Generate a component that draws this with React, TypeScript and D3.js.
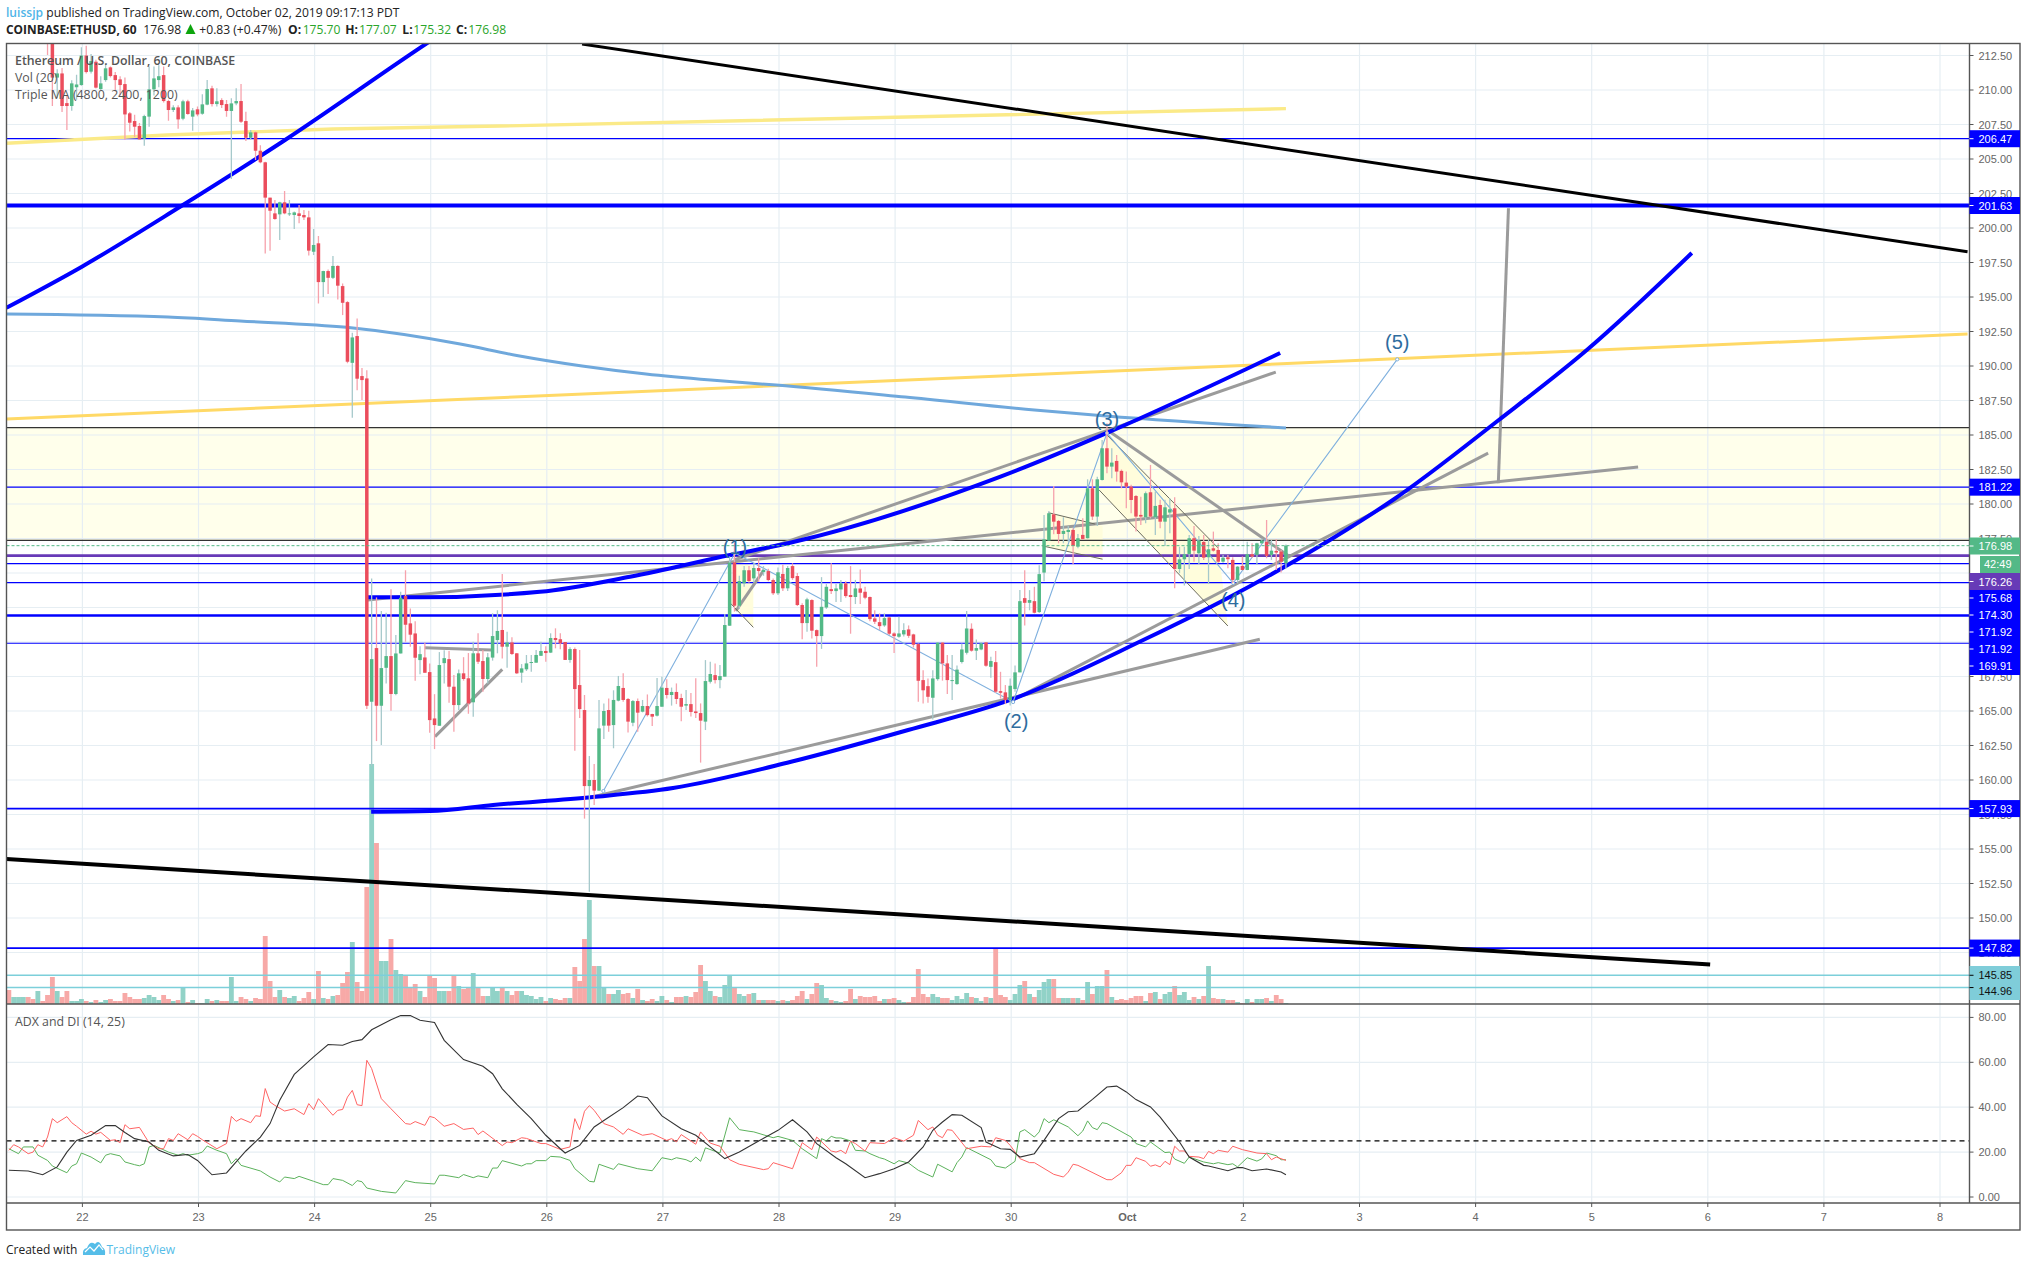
import React from "react";
import * as d3 from "d3";

// Hourly bars, first bar index is firstBar (hours relative to the "22" day tick)
const firstBar = -15;
const opens = [
216.5,215.9,216.3,216.6,216.9,216.2,215.8,216.1,215.2,214.0,
210.9,211.2,209.05,208.84,210.2,210.36,212.5,211.33,212.05,210.07,
210.72,211.64,211.08,210.77,210.43,208.31,207.75,207.39,206.47,208.07,
210.05,210.72,211.08,209.2,208.55,208.74,207.92,209.18,208.07,208.6,
208.28,208.94,210.12,208.98,209.27,208.98,208.48,209.03,209.2,207.75,
206.54,206.93,205.6,204.76,202.2,201.06,200.99,201.86,201.01,200.94,
201.06,200.94,200.77,198.28,198.89,196.08,196.88,196.39,197.25,195.79,
194.63,190.23,192.17,189.27,189.1,165.67,169.56,165.38,168.13,168.98,
166.23,169.17,173.33,171.35,170.62,168.69,168.88,167.82,164.46,163.93,
168.47,168.76,166.76,165.43,167.73,167.37,165.63,169.18,168.62,167.32,
168.87,170.14,170.87,169.66,169.97,169.18,167.78,168.02,168.48,168.5,
169,169.35,169.23,170.29,170.2,170,168.7,169.49,166.88,165.07,
159.56,160,159.23,163.94,165.07,163.98,165.75,166.67,165.87,164.15,
165.72,164.95,165.36,164.78,164.66,165.31,166.67,166.16,166.38,165.94,
165.39,165.5,164.97,164.85,164.23,167.12,167.6,167.24,167.49,171.18,
175.77,172.63,174.25,175.2,174.61,175.36,175.07,175.14,174.49,173.53,
174.93,173.89,175.5,174.78,172.68,171.37,173.04,170.86,170.43,172.5,
173.83,173.69,173.81,174.25,173.4,173.26,173.88,173.64,173.26,171.71,
171.44,171.2,171.78,170.62,170.38,170.55,170.91,170.55,169.85,167.24,
166.8,165.96,167.31,169.95,168.45,167.2,166.95,168.55,169.22,170.96,
169.37,169.46,169.97,168.2,168.54,166.44,166.35,165.79,166.59,167.8,
173.18,172.84,172.96,172.17,175.03,177.35,179.25,178.77,177.83,177.97,
178.12,176.91,177.76,177.52,181.14,179.09,181.74,184.04,182.71,183.12,
182.4,181.55,181.26,180.58,179.21,179.04,180.85,179.04,179.93,178.72,
179.38,179.69,175.29,175.99,176.38,177.52,176.43,177.25,176.14,176.79,
176.67,175.82,176.14,175.95,174.5,175.51,175.22,176.36,176.31,177.15,
177.25,176.31,176.6,176.55,175.7];
const closes = [
215.9,216.3,216.6,216.9,216.2,215.8,216.1,215.2,214.5,210.9,
211.2,208.84,208.84,210.48,210.4,212.5,211.3,212.1,210.17,210.48,
211.57,211.01,210.72,210.36,208.23,207.63,207.34,206.42,208.11,210.05,
210.84,211,209.2,208.55,208.74,207.87,209.18,208.26,208.52,208.23,
208.96,210.07,208.98,209.18,208.91,208.48,209.03,209.2,207.7,206.54,
206.93,205.6,204.76,202.2,201.25,200.65,201.86,201.06,201.06,201.13,
200.87,200.77,198.36,198.77,196.08,196.88,196.39,197.25,195.82,194.58,
190.31,192.07,189.08,188.98,165.38,168.76,165.38,168.11,168.98,166.23,
169.17,173.2,171.25,170.53,168.86,169.12,167.77,164.34,163.98,168.33,
168.83,166.76,165.43,167.73,167.32,165.55,169.18,168.57,167.32,168.89,
170.43,170.8,169.66,169.97,169.13,167.73,168.09,168.45,168.55,169.06,
169.35,169.2,170.29,170.14,169.9,168.7,169.49,166.59,165.14,159.56,
160,159.23,163.74,165,163.94,165.8,166.81,165.8,164.23,165.72,
164.88,165.36,164.7,164.59,165.36,166.69,166.16,166.38,165.87,165.31,
165.5,164.93,164.85,164.3,167.17,167.68,167.24,167.53,171.23,175.75,
172.63,174.42,175.2,174.42,175.36,175.14,175.22,174.49,173.53,175.05,
173.89,175.36,174.63,172.68,171.37,173.09,170.82,170.43,172.55,174,
173.69,173.88,174.25,173.33,173.26,173.88,173.57,173.21,171.66,171.47,
171.15,171.73,170.6,170.43,170.62,170.86,170.45,169.8,167.19,166.5,
166.03,167.36,169.95,168.45,167.24,167.24,168,169.46,170.98,169.37,
169.56,169.9,168.28,168.62,166.4,166.32,165.79,166.83,167.8,172.96,
172.84,173.04,172.12,174.92,177.44,179.33,178.72,177.83,178.05,178.12,
176.96,177.52,177.47,181.14,179.09,181.79,184.04,182.71,183,182.35,
181.57,181.26,180.29,179.09,179.09,180.78,179.09,179.86,178.72,179.76,
179.62,175.29,175.99,176.36,177.52,176.62,177.35,176.11,176.72,176.62,
175.82,176.11,176,174.5,175.46,175.22,176.36,176.19,177.15,177.35,
176.24,176.62,176.48,175.82,176.98];
const highs = [
217,216.5,216.8,217,217,216.4,216.2,216.2,215.4,214.5,
211.5,211.6,209.6,210.7,211.1,213.1,213.2,212.6,212.2,211,
211.9,211.7,211.3,211,210.9,208.4,208.2,207.6,208.2,211.7,
211.7,211.8,211.7,209.3,208.9,208.9,209.3,209.3,208.7,208.8,
209.7,210.72,210.3,210.12,209.4,209.27,209.4,210.12,210.43,208.43,
207.1,207,206,204.8,202.2,202.03,201.9,202.68,202.03,201.2,
201.66,201.3,201.25,199.93,199.42,196.9,197,197.97,197.3,195.98,
194.7,192.41,193.45,189.85,189.7,174.6,173.23,172.24,172.12,173.83,
170.5,173.64,175.2,172.43,171.5,169.7,169.95,168.45,166.22,169.27,
169.41,169.34,167.6,168,168.9,169.2,170.02,170.63,169.42,169.2,
172.08,172.3,174.93,170.75,170.34,169.2,168.4,169.06,169.06,169.42,
170.02,169.7,170.63,170.99,170.63,170,169.62,169.6,169.42,166.16,
161.74,161.16,165.8,165.55,165.9,166.5,167.54,167.73,165.95,165.8,
165.9,165.8,166.2,164.8,167.4,167.48,167.3,166.7,167,166.25,
166.52,166.3,167.37,165.55,168.69,168.57,168.45,168.33,172.03,176.2,
177.2,174.8,175.5,175.5,175.7,176.06,175.5,175.3,174.6,175.4,
175.6,175.5,175.7,175,172.8,173.2,173.1,170.9,174.7,174.2,
175.7,174.2,174.5,174.4,175.5,174.5,175.26,174,173.3,172.3,
172.07,172.07,171.8,170.7,171.83,171.35,171.2,170.6,169.9,167.96,
167.36,167.96,170,170,169.05,169.05,168.3,169.9,172.24,171.35,
170.19,170,170,168.93,169.34,167.84,166.88,167.36,168.3,173.76,
175.2,173.76,174,175.57,179.2,179.5,181.3,178.84,179.04,178.4,
178.24,177.83,178.96,181.79,181.79,181.98,184.64,185.85,184.04,183.55,
182.5,182.35,181.4,180.65,180.53,180.9,182.83,180.9,180.3,180.3,
180.41,180.49,176.9,176.9,177.76,178.41,177.68,177.76,177.39,178,
177.15,176.3,176.31,176.14,175.5,176.2,177.27,177.15,177.2,177.5,
178.84,177.39,177.44,176.67,177.07];
const lows = [
215.5,215.7,216,216.4,216,215.6,215.6,215,212.53,208.84,
209.4,208.4,207.1,208.5,209.3,210.3,211.2,211.2,210.1,210,
210.6,210.9,209.9,209.6,206.4,207,206.6,206.4,205.96,207.34,
209.6,210.2,209.1,207.78,208.4,207.2,207.8,208.2,207.05,208.1,
208.2,208.9,208.8,208.8,208.7,208.06,203.55,208.9,207.6,206.3,
206.4,204.93,204.7,198.16,198.36,200.6,199.13,201,200.87,199.93,
200.34,200.58,198,198.04,194.53,195,195.21,196.3,194.82,193.69,
190.2,186.25,188.25,187.53,165.14,161,162.82,162.53,167,165.02,
166.15,169.17,170.02,169.66,167.2,167.67,167.77,163.42,162.24,163.93,
167,165.6,163.5,165.07,167.2,164.8,164.59,168.4,166.4,167,
168.65,169.18,168.8,168.14,169.06,167.68,167.05,167.9,167.85,168.5,
169,168.57,169.2,169.54,169.47,168.7,168.5,162.12,164.5,157.2,
151.9,158.19,159.2,162.97,163.5,162.3,165.7,165.67,163.45,163.9,
163.5,164.9,164.6,163.91,164.6,165.3,165.9,165.39,165.5,164.25,
165.07,164.6,164.5,161.26,163.62,167,167,166.64,167.49,171.18,
172.2,172.4,174,174.3,174.3,174.37,174.8,174.4,173.4,173.4,
173.7,173.7,174.5,172.6,170.2,170.74,170.26,168.2,169.5,172.4,
173.47,172.9,172.9,173.2,170.6,172.75,172.75,173.1,171.5,171.3,
170.86,171.1,170.5,169.2,170.3,170.4,170.3,169.6,165.67,165.55,
165.6,164.39,167.2,167.2,166.23,165.79,166.9,168.45,169.1,169.3,
168.69,169.4,168.2,167.41,166.3,165.9,165.5,165.4,166.4,167.8,
171.2,172.3,172.07,172.1,174.4,177.35,177.8,177.15,177.15,177.27,
175.66,176.79,177.4,177.5,178.84,178.41,181.7,182.23,181.86,181.62,
181.14,179.69,179.33,178,178.48,178.6,178.95,177.76,178.24,176.96,
177.88,173.89,174.98,174.09,175.29,175.82,175.66,175.95,174.2,176.55,
175.75,175.75,175.34,174.25,174.25,175.2,175.2,176.1,175.58,177.1,
176.07,175.95,175.22,175.03,175.32];
const volumes = [
14,7,7,7,7,5,13,3,9,27,
13,7,13,3,3,5,3,2,4,2,
4,5,3,3,11,7,5,5,6,9,
7,4,9,5,3,4,17,2,4,1,
1,5,3,4,3,3,27,3,7,5,
3,6,5,68,23,7,14,7,6,8,
3,6,12,5,33,6,5,8,9,21,
32,62,22,13,117,240,161,43,43,65,
34,30,29,16,20,13,7,28,26,13,
13,13,29,18,15,17,31,17,8,8,
17,13,17,13,9,13,13,9,8,5,
7,3,6,5,4,6,6,37,23,65,
104,38,38,17,10,10,14,10,11,6,
15,4,3,5,3,8,4,2,7,7,
8,7,12,39,23,13,8,7,19,29,
17,10,8,10,11,4,4,4,4,3,
4,3,4,8,13,5,10,21,19,6,
4,3,2,3,15,5,8,7,7,8,
3,5,5,6,4,2,2,7,35,10,
7,10,7,6,6,4,8,5,11,7,
6,3,7,6,56,9,7,4,10,19,
23,10,7,14,22,25,25,6,6,6,
6,6,4,22,10,18,18,34,7,4,
5,4,6,8,8,3,11,12,5,10,
12,18,9,12,4,7,5,8,38,6,
5,5,4,4,2,1,5,2,5,5,
6,3,9,5,1];

// ADX and DI: [bar, value]
const adxLine: [number, number][] = [[-15,11.9],[-11,11.6],[-8,9.9],[-5,13.4],[-3,20],[-1,25.2],[2,27.5],[5,31.8],[7,31.8],[9,28.7],[11,26],[14,24.5],[16,20.8],[19,18.3],[22,18.9],[24,16.3],[27,9.9],[30,10.7],[32,15.6],[34,20.5],[37,26.7],[39,32.7],[41,43.1],[44,54.6],[48,62.4],[51,67.9],[54,67.6],[56,69.3],[58,70.1],[60,74.5],[64,79],[66,80.8],[68,80.8],[70,78.7],[73,77.7],[75,69.8],[79,61.2],[83,58.2],[85,54.9],[87,48.2],[90,41.3],[93,34.9],[96,27.5],[99,21.5],[100,19.6],[103,23],[106,31.2],[108,34.1],[112,39.8],[115,45],[117,44.2],[120,36.1],[124,30.4],[127,27.5],[130,22.3],[133,17.1],[136,20],[140,24.9],[144,29.7],[147,34.4],[150,29],[152,23.8],[156,17.5],[158,14.8],[162,8.6],[165,10.4],[168,12.6],[171,15.6],[174,22.3],[176,29.7],[178,33.4],[180,36.7],[182,36.4],[186,30.9],[187,24.5],[190,21.5],[192,21.2],[194,17.8],[197,19.3],[199,25.2],[202,34.9],[204,38],[206,38.3],[209,43.5],[212,49],[214,49.4],[216,46.8],[218,43.4],[221,40.1],[223,35.6],[227,24.5],[229,17.8],[232,14.1],[233,13.8],[237,11.7],[239,13.1],[240,13.1],[242,11.7],[245,12.5],[248,11.1],[249,9.9]];
const diPlus: [number, number][] = [[-15,21.5],[-13,19.3],[-12,22.3],[-10,22.3],[-9,18.6],[-7,16.3],[-6,13.8],[-3,10.8],[-2,13.8],[-1,14.8],[0,19.6],[2,17.8],[4,15.2],[5,18.6],[6,19.3],[8,18.3],[9,15.6],[11,14.4],[12,13.9],[13,14.8],[14,22.3],[15,23],[18,20],[20,18.6],[21,19.3],[22,18.6],[24,19.3],[25,20],[26,22.7],[28,20.8],[30,19.3],[31,14.8],[32,17.1],[33,14.1],[37,11.6],[39,8.9],[41,6.7],[42,8.9],[44,8.2],[45,9.2],[48,7],[50,5.5],[51,5.5],[52,8.2],[54,7.4],[56,5.1],[57,7.3],[58,6.8],[59,4],[62,2.5],[65,1.8],[67,7.3],[69,6.4],[73,5.8],[74,9.7],[75,9.7],[78,8.6],[79,10],[81,8.6],[82,9.4],[84,8.6],[85,12.9],[86,12.9],[87,16.2],[91,13.8],[92,14.8],[93,14.8],[94,16.2],[96,16.2],[97,18.1],[99,17.8],[101,16.3],[102,12.6],[104,8.9],[105,7],[106,6.7],[107,14.6],[110,12.3],[111,14.8],[115,12.6],[118,11.7],[120,17.5],[122,16.6],[123,17.5],[125,16.6],[126,15.6],[127,17.8],[128,15.9],[129,21.9],[132,19.6],[134,35.3],[136,30],[138,29.3],[139,29],[143,26.4],[144,27],[147,25.2],[149,21.5],[152,17.1],[153,26],[154,25],[155,27],[156,26.3],[157,26.3],[159,25],[160,20.8],[162,20.5],[163,19.3],[165,17.5],[166,16.9],[168,14.8],[169,16.2],[171,15.1],[173,11.9],[176,8.9],[177,14.6],[180,11.2],[181,15.3],[182,17.8],[183,22],[188,16.6],[189,13.8],[191,12.9],[193,15.9],[194,29],[195,30],[197,26.7],[198,29],[199,34.9],[200,33.1],[201,34.4],[204,31.2],[206,27.3],[207,29.4],[208,33.9],[209,30.9],[210,30],[211,33.1],[212,32.7],[217,26.7],[218,23.8],[220,22.3],[221,24.5],[224,19.8],[225,20],[226,16.9],[228,15],[229,17.8],[232,15.6],[234,14.8],[235,15.3],[237,14.4],[238,14.8],[239,13.4],[241,17.5],[243,16],[244,17],[245,19.6],[247,18.4],[248,16.6],[249,16.6]];
const diMinus: [number, number][] = [[-15,20.8],[-14,23.3],[-13,22.3],[-11,19.3],[-10,20],[-9,23.3],[-8,22.3],[-7,26.7],[-6,34.9],[-5,33.1],[-3,35.8],[-2,33.1],[-1,31.5],[1,28],[2,29.3],[3,28],[4,28.8],[6,25.2],[7,25.5],[8,24.2],[9,32.2],[10,30.4],[12,31],[14,24.1],[16,21.5],[17,21.5],[18,26],[19,25.2],[20,28.2],[22,25.5],[23,28.2],[24,27],[25,25.5],[28,21.5],[30,23.8],[31,35.9],[32,33.7],[33,34.9],[35,33.1],[36,36.2],[37,35.9],[38,48.3],[39,42.3],[40,40.8],[42,38.3],[44,39.3],[46,36.7],[47,41.6],[48,38.9],[49,43.8],[52,36.4],[53,38.6],[54,39],[55,44.5],[56,47.5],[57,41.1],[58,40.7],[59,60.9],[60,57.2],[62,43.8],[64,39.3],[67,32.7],[68,32.4],[69,33.6],[71,31.9],[72,35.9],[73,35.3],[75,31.5],[77,32.7],[79,30.1],[81,30.7],[82,27.8],[83,29.4],[87,22.9],[88,24.5],[89,24.2],[91,26.4],[92,26.1],[95,23.8],[96,23.8],[99,21.2],[101,22.3],[102,34.9],[103,30],[104,38.2],[105,40.7],[106,38.6],[108,32.7],[110,31.2],[112,27.9],[113,30.4],[116,27.5],[118,28.2],[121,25.2],[122,26],[123,24.6],[124,27.8],[127,23.5],[128,29],[130,24],[132,22.6],[134,16.6],[136,14.6],[141,12.2],[142,12.6],[143,15.3],[147,12.6],[149,24.2],[151,21.1],[152,26.7],[155,20.5],[156,20],[157,20.8],[158,19.3],[159,24.9],[160,23.8],[162,20.5],[163,24.2],[166,23.8],[168,26.4],[170,24.9],[172,27.5],[173,34.1],[175,30],[176,31.2],[177,27.5],[178,26.4],[179,30],[180,29.7],[183,21.5],[186,22.6],[188,22.3],[189,26.4],[191,25.2],[192,23],[194,17.1],[196,15.3],[197,15.3],[201,10.1],[203,8.9],[204,11.1],[205,14.6],[206,14.1],[212,7.7],[213,7.7],[215,10.8],[216,14.1],[217,14.1],[218,17.5],[220,15.9],[221,13.7],[222,14.3],[223,13.4],[224,15.9],[225,14.4],[226,22.6],[227,20.5],[228,20.5],[229,18.1],[231,17.8],[232,17.1],[233,20.3],[234,19.3],[235,20.8],[237,20],[238,22.6],[240,21.1],[243,19.6],[245,19.3],[246,16.6],[247,17.8],[249,16.3]];

// Moving averages and drawings: [bar, price]
const maYellow: [number, number][] = [[-15.5,206.14],[17.7,206.74],[52,207.17],[86.5,207.39],[249,208.65]];
const maOrange: [number, number][] = [[-15.5,186.16],[389.9,192.32]];
const maBlue: [number, number][] = [[-15.5,193.77],[17.9,193.55],[32.8,193.26],[54.8,192.8],[78.3,191.59],[90,190.76],[103.5,190],[116.7,189.42],[130.1,188.98],[143.6,188.62],[170.3,187.75],[197,186.81],[211.8,186.38],[249,185.51]];
const curveTop: [number, number][] = [[-15.5,194.22],[0.1,197.2],[20.4,201.54],[42.1,206.38],[71.4,213.38],[80.3,215.43]];
const curveLow: [number, number][] = [[59.9,157.7],[72.1,157.75],[85.1,158.19],[105.8,158.77],[122.3,159.42],[146.5,161.3],[170.9,163.62],[192,165.8],[219.5,170.14],[237.4,173.26],[258.1,177.39],[271.1,180.29],[293,186.09],[311.2,191.16],[332.9,198.19]];
const curveUp: [number, number][] = [[59.2,173.24],[70,173.24],[94.8,173.64],[113.4,174.73],[134.1,176.3],[146.5,177.19],[190,181.98],[212.6,185.24],[247.8,190.94]];
const blackLines: [number, number][][] = [[[103.5,213.33],[389.9,198.28]],[[-15.5,154.27],[336.7,146.63]]];
const grayLines: [number, number][][] = [
  [[59.2,173.04],[321.8,182.68]],
  [[104.7,158.69],[243.6,170.2]],
  [[192.6,165.8],[290.8,183.69]],
  [[134.9,175.94],[246.9,189.56]],
  [[71,169.59],[84.8,169.42]],
  [[73.1,163.14],[87,168.02]],
  [[135.3,172.25],[141.1,175.22]],
  [[295,201.43],[292.9,181.5]],
  [[212.6,185.24],[249.8,176.18]],
];
const thinLines: [number, number][][] = [
  [[134.2,172.8],[138.9,171.06]],
  [[199.9,179.37],[209.5,178.55]],
  [[198.7,176.96],[211.1,176]],
  [[212,185],[235,176.81]],
  [[210.4,181.01],[237,171.16]],
];
const channelFills: [number, number][][] = [
  [[135.1,175.94],[138.9,175.51],[138.9,171.09],[134.3,172.82]],
  [[199.9,179.37],[211.1,178.4],[211.1,176],[198.7,176.96]],
  [[212,185],[235,176.81],[237,171.16],[210.4,181.01]],
];
const wavePoints: [number, number][] = [[107.9,159.2],[135.1,176.45],[192.6,165.65],[212,185.14],[238.1,174.27],[272,190.48]];
const waveLabels = ["", "(1)", "(2)", "(3)", "(4)", "(5)"];
const waveLabelPrices = [0, 176.4, 163.75, 185.65, 172.55, 191.25];

const hLinesThin = [206.47, 181.22, 175.68, 174.3, 169.91];
const hLinesMid = [157.93, 147.82];
const hLinesThick = [201.63];
const hLineZone = 171.92;
const zone = [177.37, 185.53];
const lastPrice = 176.98;
const maPrice = 176.26;
const tealLevels = [145.85, 144.96];
const priceTicks = d3.range(147.5, 213, 2.5);
const hiddenTicks = [145, 170, 172.5, 175];
const adxTicks = [80, 60, 40, 20, 0];
const dayLabels = ["22","23","24","25","26","27","28","29","30","Oct","2","3","4","5","6","7","8"];
const blueLabels = [206.47, 201.63, 181.22, 157.93, 147.82];
const stackedLabels = ["175.68", "174.30", "171.92", "171.92", "169.91"];

const C = {
  grid: "#E6EEF3", frame: "#555555", up: "#53B987", down: "#EB4D5C", upWick: "#A6C9CB", downWick: "#F6A2AC",
  volUp: "#91D2C7", volDown: "#F7A9A7", blue: "#0000FF", gray: "#9B9B9B", text: "#666666",
};
const W = 2027, H = 1267;
const L = 6.5, R = 1969.5, T = 43.5, B1 = 1004, B2 = 1203, B3 = 1230, RR = 2020;
const sans = "'Liberation Sans', Arial, sans-serif";
const head = "'Open Sans', sans-serif";

const x = d3.scaleLinear().domain([0, 1]).range([81.4, 86.2375]);
const y = d3.scaleLinear().domain([180, 150]).range([504, 918]);
const yAdx = d3.scaleLinear().domain([0, 80]).range([1197, 1017.4]);
const yVol = d3.scaleLinear().domain([0, 240]).range([B1, 764]);

const line = d3.line<[number, number]>().x((d) => x(d[0])).y((d) => y(d[1]));
const smooth = d3.line<[number, number]>().x((d) => x(d[0])).y((d) => y(d[1])).curve(d3.curveMonotoneX);
const adxPath = d3.line<[number, number]>().x((d) => x(d[0])).y((d) => yAdx(d[1]));

function Label({ top, h = 17, fill, color = "#fff", text }: any) {
  return (
    <g>
      <rect x={R} y={top} width={RR - R} height={h} fill={fill} />
      <line x1={R} x2={R + 4} y1={top + h / 2} y2={top + h / 2} stroke={color} strokeWidth={1} />
      <text x={1978.5} y={top + h / 2 + 4} fontFamily={sans} fontSize={11} fill={color}>{text}</text>
    </g>
  );
}

export default function App() {
  const n = opens.length;
  const idx = d3.range(n);
  const hw = 1.75;
  const stack = 589;
  return (
    <svg width={W} height={H} viewBox={`0 0 ${W} ${H}`} style={{ position: "absolute", left: 0, top: 0, background: "#fff", display: "block" }}>
      <defs>
        <clipPath id="pane"><rect x={L} y={T} width={R - L} height={B1 - T} /></clipPath>
        <clipPath id="adx"><rect x={L} y={B1} width={R - L} height={B2 - B1} /></clipPath>
      </defs>

      {/* grid */}
      <g stroke={C.grid} strokeWidth={1.2}>
        {priceTicks.map((p) => <line key={p} x1={L} x2={R} y1={y(p)} y2={y(p)} />)}
        {adxTicks.map((v) => <line key={v} x1={L} x2={R} y1={yAdx(v)} y2={yAdx(v)} />)}
        {dayLabels.map((d, i) => {
          const px = x(i * 24) + 1;
          return <line key={d} x1={px} x2={px} y1={T} y2={B2} />;
        })}
      </g>

      <g clipPath="url(#pane)">
        {/* zone */}
        <rect x={L} width={R - L} y={y(zone[1])} height={y(zone[0]) - y(zone[1])} fill="#FFFFEB" />
        {/* the grid stays visible through the zone */}
        <g stroke={C.grid} strokeWidth={1.2}>
          {priceTicks.filter((p) => p > zone[0] && p < zone[1]).map((p) => <line key={p} x1={L} x2={R} y1={y(p)} y2={y(p)} />)}
          {dayLabels.map((d, i) => {
            const px = x(i * 24) + 1;
            return <line key={d} x1={px} x2={px} y1={y(zone[1])} y2={y(zone[0])} />;
          })}
        </g>
        {channelFills.map((c, i) => (
          <path key={i} d={line(c) + "Z"} fill="#FFFDDC" />
        ))}

        {/* volume */}
        {idx.map((i) => (
          <rect key={i} x={x(firstBar + i) - 2.42} width={4.84} y={yVol(volumes[i])} height={B1 - yVol(volumes[i])}
            fill={closes[i] >= opens[i] ? C.volUp : C.volDown} />
        ))}

        {/* levels */}
        {tealLevels.map((p) => <line key={p} x1={L} x2={R} y1={y(p)} y2={y(p)} stroke="#7CCFDA" strokeWidth={1.4} />)}
        {zone.map((p) => <line key={p} x1={L} x2={R} y1={y(p)} y2={y(p)} stroke="#333" strokeWidth={1.2} />)}
        {hLinesThin.map((p) => <line key={p} x1={L} x2={R} y1={y(p)} y2={y(p)} stroke={C.blue} strokeWidth={1.2} />)}
        {hLinesMid.map((p) => <line key={p} x1={L} x2={R} y1={y(p)} y2={y(p)} stroke={C.blue} strokeWidth={1.8} />)}
        {hLinesThick.map((p) => <line key={p} x1={L} x2={R} y1={y(p)} y2={y(p)} stroke={C.blue} strokeWidth={4} />)}
        <line x1={L} x2={R} y1={y(hLineZone)} y2={y(hLineZone)} stroke={C.blue} strokeWidth={2.4} />
        <line x1={L} x2={R} y1={y(maPrice)} y2={y(maPrice)} stroke="#673AB7" strokeWidth={2.8} />

        {/* moving averages */}
        <path d={line(maYellow) ?? ""} fill="none" stroke="#FBEA88" strokeWidth={3.4} />
        <path d={line(maOrange) ?? ""} fill="none" stroke="#FFD966" strokeWidth={3} />
        <path d={smooth(maBlue) ?? ""} fill="none" stroke="#6FA8DC" strokeWidth={3} />

        {/* drawings */}
        {grayLines.map((l, i) => <path key={i} d={line(l) ?? ""} fill="none" stroke={C.gray} strokeWidth={3} />)}
        {thinLines.map((l, i) => <path key={i} d={line(l) ?? ""} fill="none" stroke="#6B6B5E" strokeWidth={1} />)}
        {blackLines.map((l, i) => <path key={i} d={line(l) ?? ""} fill="none" stroke="#000" strokeWidth={i === 0 ? 3 : 4} />)}
        <path d={smooth(curveTop) ?? ""} fill="none" stroke={C.blue} strokeWidth={4} />
        <path d={smooth(curveLow) ?? ""} fill="none" stroke={C.blue} strokeWidth={4} />
        <path d={smooth(curveUp) ?? ""} fill="none" stroke={C.blue} strokeWidth={4} />

        {/* wave */}
        <path d={line(wavePoints) ?? ""} fill="none" stroke="#7FB0DE" strokeWidth={1.1} />
        {wavePoints.map((d, i) => <circle key={i} cx={x(d[0])} cy={y(d[1])} r={1.6} fill="#fff" stroke="#7FB0DE" strokeWidth={1} />)}

        {/* candles */}
        {idx.map((i) => {
          const up = closes[i] >= opens[i];
          const px = x(firstBar + i);
          const top = y(Math.max(opens[i], closes[i]));
          const bot = y(Math.min(opens[i], closes[i]));
          return (
            <g key={i}>
              <line x1={px} x2={px} y1={y(highs[i])} y2={y(lows[i])} stroke={up ? C.upWick : C.downWick} strokeWidth={1.3} />
              <rect x={px - hw} width={hw * 2} y={top} height={Math.max(bot - top, 1)} fill={up ? C.up : C.down} />
            </g>
          );
        })}
        <line x1={L} x2={R} y1={y(lastPrice)} y2={y(lastPrice)} stroke={C.up} strokeWidth={1} strokeDasharray="3 2" />

        {waveLabels.map((t, i) => t && (
          <text key={i} x={x(wavePoints[i][0]) + (i === 2 ? 3 : 0)} y={y(waveLabelPrices[i])} textAnchor="middle" fontFamily={sans} fontSize={20} fill="#2E6C9E">{t}</text>
        ))}
      </g>

      {/* ADX */}
      <g clipPath="url(#adx)" fill="none">
        <line x1={L} x2={R} y1={yAdx(25)} y2={yAdx(25)} stroke="#000" strokeWidth={1.3} strokeDasharray="5 4" />
        <path d={adxPath(diPlus) ?? ""} stroke="#5CB25C" strokeWidth={1} />
        <path d={adxPath(diMinus) ?? ""} stroke="#FF6464" strokeWidth={1} />
        <path d={adxPath(adxLine) ?? ""} stroke="#333" strokeWidth={1.1} />
      </g>

      {/* axis frame */}
      <rect x={L} y={T} width={RR - L} height={B3 - T} fill="none" stroke={C.frame} strokeWidth={1.4} />
      <line x1={R} x2={R} y1={T} y2={B2} stroke={C.frame} strokeWidth={1.4} />
      <line x1={L} x2={RR} y1={B1} y2={B1} stroke={C.frame} strokeWidth={1.4} />
      <line x1={L} x2={RR} y1={B2} y2={B2} stroke={C.frame} strokeWidth={1.4} />

      {/* price axis */}
      {priceTicks.filter((p) => !hiddenTicks.includes(p)).map((p) => (
        <g key={p}>
          <line x1={R} x2={R + 4} y1={y(p)} y2={y(p)} stroke={C.frame} strokeWidth={1} />
          <text x={1978.5} y={y(p) + 4} fontFamily={sans} fontSize={11} fill={C.text}>{p.toFixed(2)}</text>
        </g>
      ))}
      {adxTicks.map((v) => (
        <g key={v}>
          <line x1={R} x2={R + 4} y1={yAdx(v)} y2={yAdx(v)} stroke={C.frame} strokeWidth={1} />
          <text x={1978.5} y={yAdx(v) + 4} fontFamily={sans} fontSize={11} fill={C.text}>{v.toFixed(2)}</text>
        </g>
      ))}
      {dayLabels.map((d, i) => {
        const px = x(i * 24) + 1;
        return (
          <g key={d}>
            <line x1={px} x2={px} y1={B2} y2={B2 + 4} stroke={C.frame} strokeWidth={1} />
            <text x={px} y={1221} textAnchor="middle" fontFamily={sans} fontSize={11} fontWeight={d === "Oct" ? 700 : 400} fill={C.text}>{d}</text>
          </g>
        );
      })}

      {/* price labels */}
      {blueLabels.map((p) => (
        <Label key={p} top={y(p) - 8.5} fill={C.blue} text={p.toFixed(2)} />
      ))}
      <rect x={R} y={966} width={RR - R} height={34} fill="#7FCDD9" />
      {tealLevels.map((p, i) => (
        <g key={p}>
          <line x1={R} x2={R + 4} y1={y(p)} y2={y(p)} stroke="#000" strokeWidth={1} />
          <text x={1978.5} y={[978.5, 995][i]} fontFamily={sans} fontSize={11} fill="#111">{p.toFixed(2)}</text>
        </g>
      ))}
      <rect x={R} y={stack} width={RR - R} height={86} fill={C.blue} />
      {stackedLabels.map((t, i) => (
        <g key={i}>
          <line x1={R} x2={R + 4} y1={598 + i * 17} y2={598 + i * 17} stroke="#fff" strokeWidth={1} />
          <text x={1978.5} y={602 + i * 17} fontFamily={sans} fontSize={11} fill="#fff">{t}</text>
        </g>
      ))}
      <Label top={537.5} fill={C.up} text={lastPrice.toFixed(2)} />
      <rect x={1980} y={556} width={40} height={17} fill={C.up} />
      <text x={1984} y={568} fontFamily={sans} fontSize={11} fill="#fff">42:49</text>
      <Label top={573} fill="#673AB7" text={maPrice.toFixed(2)} />

      {/* legends */}
      <g fontFamily={head} fontSize={12.35} fill="#555">
        <text x={15} y={65} fontWeight={600}>Ethereum / U.S. Dollar, 60, COINBASE</text>
        <text x={15} y={82}>Vol (20)</text>
        <text x={15} y={99}>Triple MA (4800, 2400, 1200)</text>
        <text x={15} y={1026}>ADX and DI (14, 25)</text>
      </g>

      {/* header */}
      <g fontFamily={head} fontSize={12.1} fill="#222">
        <text x={6} y={17}><tspan fill="#4FB5E8" fontWeight={600}>luissjp</tspan> published on TradingView.com, October 02, 2019 09:17:13 PDT</text>
        <text x={6} y={34} fontWeight={700} fontSize={11.9}>COINBASE:ETHUSD, 60</text>
        <text x={143.3} y={34}>176.98</text>
        <path d="M185.5 34 L190.5 24 L195.5 34 Z" fill="#0DA50D" />
        <text x={199.3} y={34}>+0.83 (+0.47%)</text>
        <text x={288} y={34} fontWeight={700}>O:</text>
        <text x={302.7} y={34} fill="#2AA52A">175.70</text>
        <text x={345.3} y={34} fontWeight={700}>H:</text>
        <text x={359} y={34} fill="#2AA52A">177.07</text>
        <text x={402.3} y={34} fontWeight={700}>L:</text>
        <text x={413.3} y={34} fill="#2AA52A">175.32</text>
        <text x={456} y={34} fontWeight={700}>C:</text>
        <text x={468.3} y={34} fill="#2AA52A">176.98</text>
      </g>

      {/* footer */}
      <text x={6} y={1254} fontFamily={head} fontSize={12} fill="#222">Created with</text>
      <path d="M83 1255 Q82 1249 87 1248 Q90 1240 95 1244 Q99 1239 102 1247 Q106 1249 105 1255 Z" fill="#55BDE8" />
      <path d="M85 1252 L90 1247 L94 1251 L99 1245 L103 1250" fill="none" stroke="#fff" strokeWidth={1.2} />
      <text x={106.5} y={1254} fontFamily={head} fontSize={12} fill="#55BDE8">TradingView</text>
    </svg>
  );
}
